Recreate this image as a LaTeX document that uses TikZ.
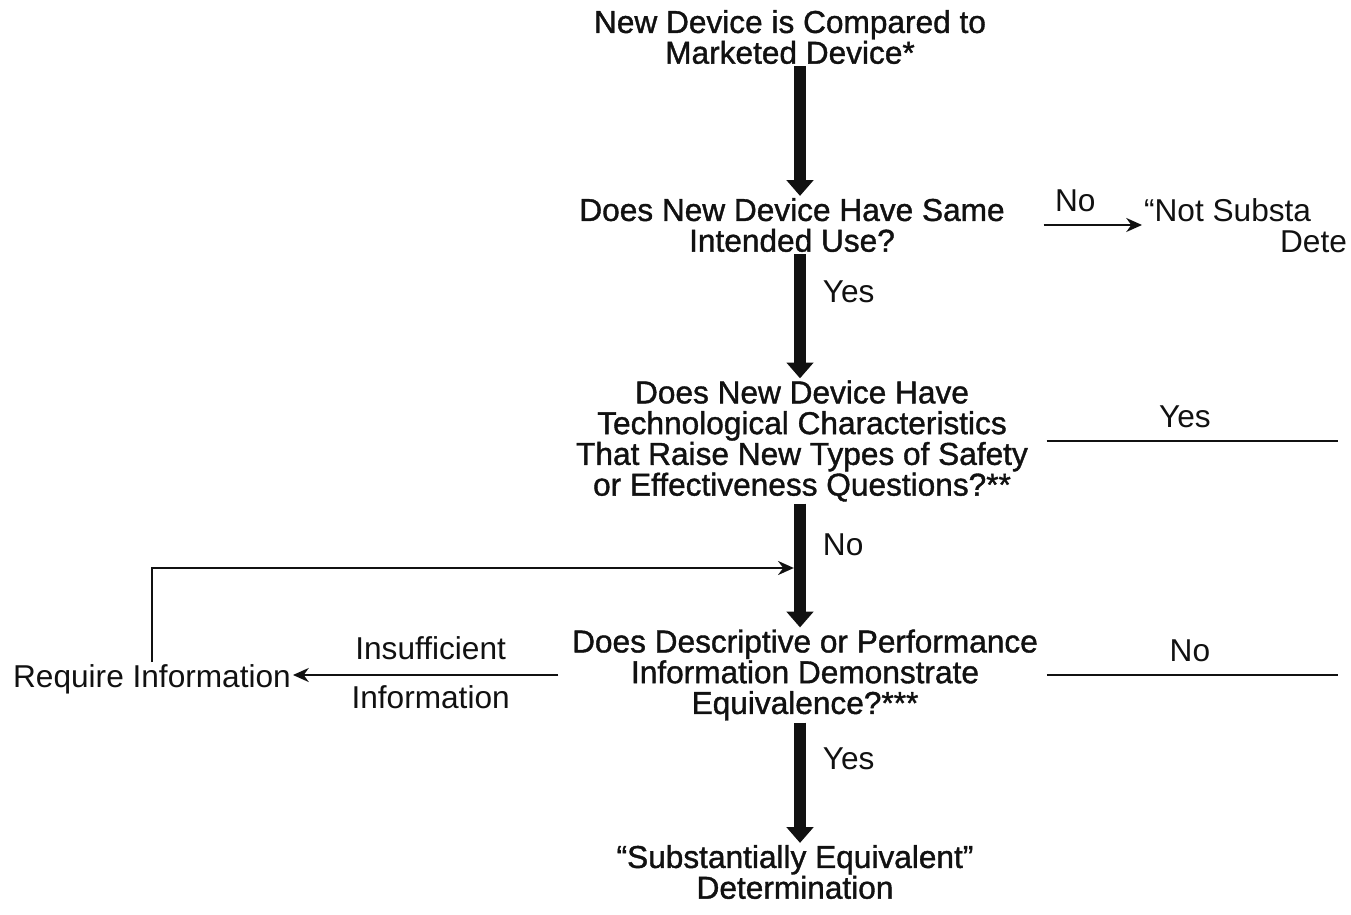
\documentclass[tikz,border=0pt]{standalone}
\usepackage{fontspec}
\setmainfont{Liberation Sans}
\newfontfamily\fdheavy{Liberation Sans}[FakeBold=1.2]
\usetikzlibrary{positioning, arrows.meta, calc}
\definecolor{fdInk}{HTML}{111111}
\tikzset{
  fdBase/.style={align=center, font=\fdheavy\fontsize{18}{17.5}\selectfont,
                 text=fdInk, inner xsep=2pt, inner ysep=1pt},
  fdQ/.style={fdBase},
  fdEnd/.style={fdBase},
  fdFlow/.style={-{Triangle[length=9pt, width=15pt]}, line width=7pt, draw=fdInk},
  fdSide/.style={line width=1.2pt, draw=fdInk},
  fdSideArrow/.style={fdSide, -{Stealth[length=9pt, width=8pt]}},
  fdLabel/.style={font=\fontsize{18}{18}\selectfont, text=fdInk, inner sep=1pt},
}

\begin{document}
\begin{tikzpicture}[x=0.02cm, y=-0.02cm, node distance=2mm]
  \useasboundingbox (0,0) rectangle (1351,915);

  % ─── Main column of questions ────────────────────────────────────────────
  \node[fdQ]  (start) at (790,37)  {New Device is Compared to\\Marketed Device*};
  \node[fdQ]  (use)   at (792,225) {Does New Device Have Same\\Intended Use?};
  \node[fdQ]  (tech)  at (802,441) {Does New Device Have\\Technological Characteristics\\That Raise New Types of Safety\\or Effectiveness Questions?**};
  \node[fdQ]  (perf)  at (805,675) {Does Descriptive or Performance\\Information Demonstrate\\Equivalence?***};
  \node[fdEnd] (se)   at (795,872) {“Substantially Equivalent”\\Determination};

  \coordinate (col)   at (800,0);
  \coordinate (merge) at (800,568);
  \coordinate (edge)  at (1338,0);

  \draw[fdFlow] (start.south -| col) -- (use.north -| col);
  \draw[fdFlow] (use.south -| col) -- (tech.north -| col)
        node[fdLabel, pos=0.3, right=3mm] {Yes};
  \draw[fdFlow] (tech.south -| col) -- (perf.north -| col)
        node[fdLabel, pos=0.33, right=3mm] {No};
  \draw[fdFlow] (perf.south -| col) -- (se.north -| col)
        node[fdLabel, pos=0.3, right=3mm] {Yes};

  % ─── Exits to the right (cut at the page edge) ───────────────────────────
  \node[fdLabel, anchor=west] (notse)  at (1142,210) {“Not Substa};
  \node[fdLabel, anchor=east] (notse2) at (1349,242) {Dete};
  \draw[fdSideArrow, shorten <=7mm] (use.east) -- (use.east -| notse.west)
        node[fdLabel, midway, above=2mm] {No};

  \draw[fdSide, shorten <=3mm] (tech.east) -- (tech.east -| edge)
        node[fdLabel, midway, above=2mm] {Yes};
  \draw[fdSide, shorten <=1mm] (perf.east) -- (perf.east -| edge)
        node[fdLabel, midway, above=2mm] {No};

  % ─── Insufficient information loop ───────────────────────────────────────
  \node[fdLabel] (req) at (152,679) {Require Information};
  \draw[fdSideArrow, shorten <=2mm] (perf.west) -- (perf.west -| req.east)
        node[fdLabel, midway, above=2.5mm] {Insufficient}
        node[fdLabel, midway, below=1.5mm] {Information};
  \draw[fdSideArrow, shorten >=3.5pt] (req.north) |- (merge);

\end{tikzpicture}
\end{document}
